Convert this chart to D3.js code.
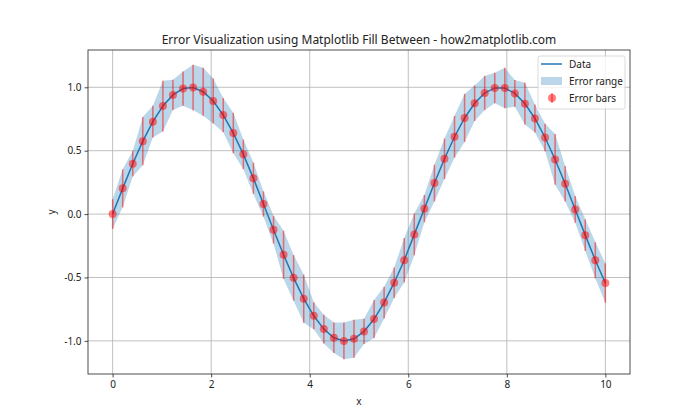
<!DOCTYPE html>
<html><head><meta charset="utf-8">
<script src="https://cdn.jsdelivr.net/npm/d3@7"></script>
<style>body{margin:0;background:#fff}svg{display:block}text{font-family:"Noto Sans","Open Sans",sans-serif}</style>
</head><body><svg id="c" width="700" height="420"></svg>
<script>
const xValues = [0.000,0.204,0.408,0.612,0.816,1.020,1.224,1.429,1.633,1.837,
2.041,2.245,2.449,2.653,2.857,3.061,3.265,3.469,3.673,3.878,
4.082,4.286,4.490,4.694,4.898,5.102,5.306,5.510,5.714,5.918,
6.122,6.327,6.531,6.735,6.939,7.143,7.347,7.551,7.755,7.959,
8.163,8.367,8.571,8.776,8.980,9.184,9.388,9.592,9.796,10.000];
const yValues = [0.000,0.203,0.397,0.575,0.729,0.852,0.940,0.990,0.998,0.965,
0.892,0.781,0.639,0.471,0.282,0.080,-0.123,-0.321,-0.503,-0.667,
-0.802,-0.907,-0.975,-1.000,-0.983,-0.925,-0.828,-0.698,-0.541,-0.364,
-0.160,0.043,0.245,0.436,0.610,0.758,0.874,0.955,0.995,0.994,
0.952,0.871,0.754,0.604,0.431,0.239,0.037,-0.166,-0.364,-0.544];
const errValues = [0.117,0.150,0.100,0.190,0.125,0.200,0.120,0.135,0.180,0.190,
0.177,0.135,0.160,0.117,0.124,0.100,0.110,0.190,0.180,0.190,
0.106,0.113,0.120,0.145,0.150,0.100,0.150,0.125,0.120,0.175,
0.165,0.108,0.145,0.160,0.165,0.190,0.140,0.135,0.120,0.160,
0.105,0.165,0.110,0.108,0.200,0.140,0.106,0.125,0.143,0.155];
const xTicks = [0,2,4,6,8,10];
const yTicks = [-1.0,-0.5,0.0,0.5,1.0];
const titleText = "Error Visualization using Matplotlib Fill Between - how2matplotlib.com";
const legendLabels = ["Data","Error range","Error bars"];

const data = xValues.map((x,i)=>({x, y:yValues[i], e:errValues[i]}));
const svg = d3.select("#c");
const L=88, R=630, T=50, B=374;
const lo = d3.min(data,d=>d.y-d.e), hi = d3.max(data,d=>d.y+d.e);
const ym = (hi-lo)*0.05;
const x = d3.scaleLinear().domain([-0.5,10.5]).range([L,R]);
const y = d3.scaleLinear().domain([lo-ym, hi+ym]).range([B,T]);
const blue="#1f77b4";

// grid
const g = svg.append("g");
g.selectAll(".gx").data(xTicks).join("line").attr("x1",d=>x(d)).attr("x2",d=>x(d)).attr("y1",T).attr("y2",B).attr("stroke","#b0b0b0").attr("stroke-width",0.8);
g.selectAll(".gy").data(yTicks).join("line").attr("y1",d=>y(d)).attr("y2",d=>y(d)).attr("x1",L).attr("x2",R).attr("stroke","#b0b0b0").attr("stroke-width",0.8);

const clip = svg.append("clipPath").attr("id","cp").append("rect").attr("x",L).attr("y",T).attr("width",R-L).attr("height",B-T);
const pg = svg.append("g").attr("clip-path","url(#cp)");
pg.append("path").datum(data).attr("d",d3.area().x(d=>x(d.x)).y0(d=>y(d.y-d.e)).y1(d=>y(d.y+d.e))).attr("fill",blue).attr("fill-opacity",0.3);
pg.append("path").datum(data).attr("d",d3.line().x(d=>x(d.x)).y(d=>y(d.y))).attr("fill","none").attr("stroke",blue).attr("stroke-width",1.5);
pg.selectAll(".eb").data(data).join("line").attr("x1",d=>x(d.x)).attr("x2",d=>x(d.x)).attr("y1",d=>y(d.y-d.e)).attr("y2",d=>y(d.y+d.e)).attr("stroke","red").attr("stroke-opacity",0.5).attr("stroke-width",1.5);
pg.selectAll(".mk").data(data).join("circle").attr("cx",d=>x(d.x)).attr("cy",d=>y(d.y)).attr("r",4).attr("fill","red").attr("fill-opacity",0.5);

// axes
const ax = svg.append("g").attr("transform",`translate(0,${B})`).call(d3.axisBottom(x).tickValues(xTicks).tickFormat(d3.format("d")).tickSize(3.5).tickPadding(3));
const ay = svg.append("g").attr("transform",`translate(${L},0)`).call(d3.axisLeft(y).tickValues(yTicks).tickFormat(d3.format(".1f")).tickSize(3.5).tickPadding(3));
[ax,ay].forEach(a=>{a.select(".domain").remove();a.selectAll("text").attr("font-size",10).attr("fill","#222");a.selectAll(".tick line").attr("stroke","#222").attr("stroke-width",0.8);});
ay.selectAll("text").text(d=>d3.format(".1f")(d).replace("−","-"));
svg.append("rect").attr("x",L).attr("y",T).attr("width",R-L).attr("height",B-T).attr("fill","none").attr("stroke","#222").attr("stroke-width",0.8);

svg.append("text").attr("x",(L+R)/2).attr("y",44).attr("text-anchor","middle").attr("font-size",12).attr("fill","#222").text(titleText);
svg.append("text").attr("x",(L+R)/2).attr("y",405).attr("text-anchor","middle").attr("font-size",10).attr("fill","#222").text("x");
svg.append("text").attr("transform",`translate(55,${(T+B)/2}) rotate(-90)`).attr("text-anchor","middle").attr("font-size",10).attr("fill","#222").text("y");

// legend
const lg = svg.append("g");
lg.append("rect").attr("x",538).attr("y",56).attr("width",87).attr("height",53).attr("rx",2).attr("fill","#fff").attr("fill-opacity",0.8).attr("stroke","#d0d0d0").attr("stroke-width",0.8);
lg.append("line").attr("x1",541).attr("x2",562).attr("y1",64).attr("y2",64).attr("stroke",blue).attr("stroke-width",1.5);
lg.append("rect").attr("x",541).attr("y",77).attr("width",21).attr("height",8).attr("fill",blue).attr("fill-opacity",0.3);
lg.append("line").attr("x1",552).attr("x2",552).attr("y1",93).attr("y2",103).attr("stroke","red").attr("stroke-opacity",0.5).attr("stroke-width",1.5);
lg.append("circle").attr("cx",552).attr("cy",98).attr("r",4).attr("fill","red").attr("fill-opacity",0.5);
lg.selectAll(".lt").data(legendLabels).join("text").attr("x",569).attr("y",(d,i)=>64+i*17).attr("dy","0.35em").attr("font-size",10).attr("fill","#222").text(d=>d);
</script></body></html>
